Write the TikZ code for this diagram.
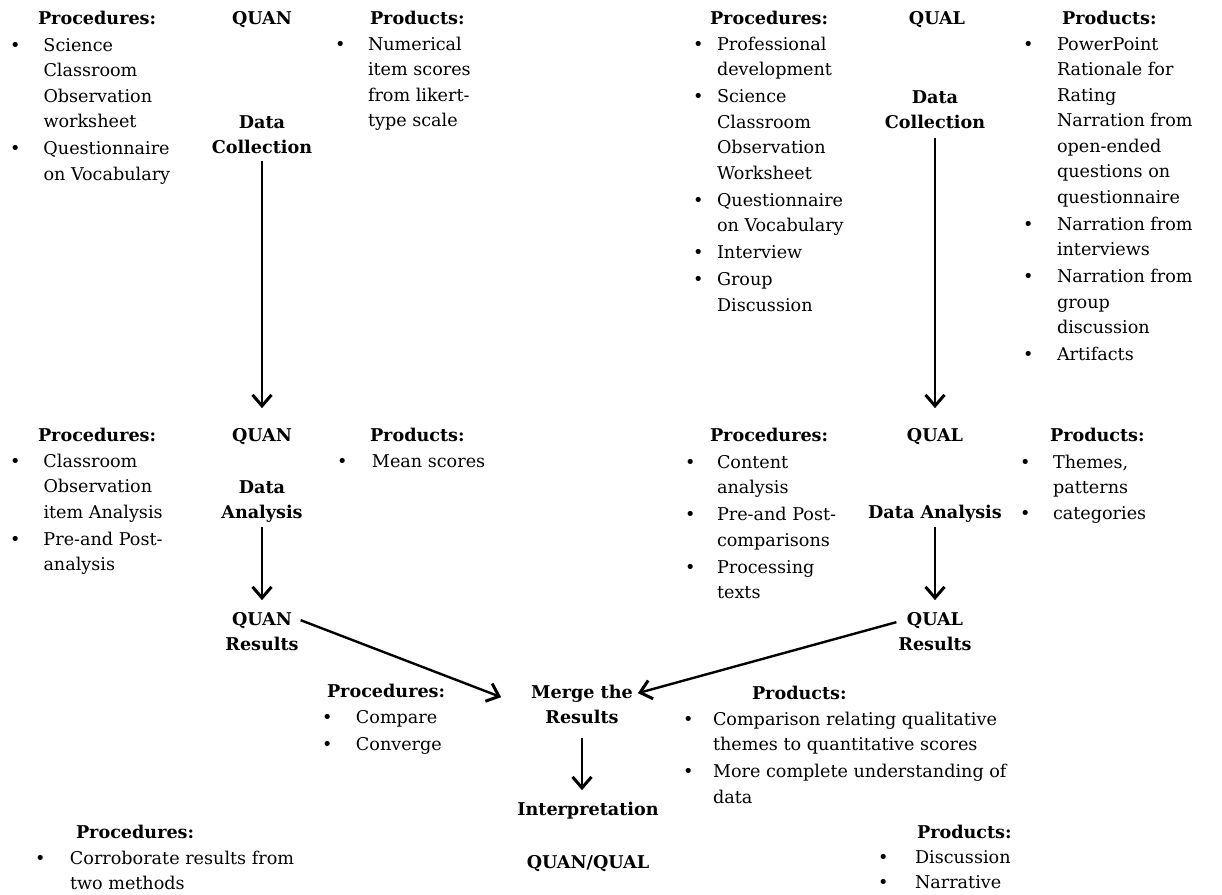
\documentclass[tikz,border=0pt]{standalone}
\usepackage{fontspec}
\setmainfont{DejaVu Serif}
\usetikzlibrary{arrows.meta,calc}
% bulleted list: #1 = indent from bullet to text, #2 = rows
\newcommand\blist[2]{\begin{tabular}[t]{@{}p{#1}@{}l@{}}#2\end{tabular}}
\newcommand\bu{\textbullet}
% centred stack of lines, baseline on the first line
\newcommand\stack[1]{\begin{tabular}[t]{@{}c@{}}#1\end{tabular}}

\begin{document}
\begin{tikzpicture}[x=1pt,y=-1pt,
  txt/.style={inner sep=0pt, outer sep=0pt, font=\fontsize{17.6}{25.5}\selectfont},
  head/.style={txt, font=\fontsize{17.6}{25.5}\selectfont\bfseries, anchor=base west},
  stage/.style={txt, font=\fontsize{17.6}{25.5}\selectfont\bfseries, anchor=base},
  items/.style={txt, anchor=base west},
  flow/.style={line width=2.8pt, -{Straight Barb[length=11pt,width=19pt,line width=3pt]}},
]
\useasboundingbox[fill=white] (0,0) rectangle (1222,894);

% ---------- QUAN data collection ----------
\node[head] (hA) at (38,24) {Procedures:};
\node[items] (lA) at (10,51) {\blist{33.5pt}{\bu & Science\\ & Classroom\\ & Observation\\ & worksheet\\[1.5pt]
  \bu & Questionnaire\\ & on Vocabulary}};
\node[stage] (qnA) at (262,24) {\stack{QUAN}};
\node[stage] (dcA) at (262,128) {\stack{Data\\Collection}};
\node[head] (hB) at (370,24) {Products:};
\node[items] (lB) at (335,50) {\blist{33pt}{\bu & Numerical\\ & item scores\\ & from likert-\\ & type scale}};

% ---------- QUAL data collection ----------
\node[head] (hC) at (710,24) {Procedures:};
\node[items] (lC) at (693,50) {\blist{24pt}{\bu & Professional\\ & development\\[1.5pt]
  \bu & Science\\ & Classroom\\ & Observation\\ & Worksheet\\[1.5pt]
  \bu & Questionnaire\\ & on Vocabulary\\[1.5pt]
  \bu & Interview\\[1.5pt]
  \bu & Group\\ & Discussion}};
\node[stage] (qlA) at (937,24) {\stack{QUAL}};
\node[stage] (dcB) at (935,103) {\stack{Data\\Collection}};
\node[head] (hD) at (1062,24) {Products:};
\node[items] (lD) at (1023,50) {\blist{34pt}{\bu & PowerPoint\\ & Rationale for\\ & Rating\\ & Narration from\\ & open-ended\\ & questions on\\ & questionnaire\\[1.5pt]
  \bu & Narration from\\ & interviews\\[1.5pt]
  \bu & Narration from\\ & group\\ & discussion\\[1.5pt]
  \bu & Artifacts}};

% ---------- QUAN data analysis ----------
\node[head] (hE) at (38,441) {Procedures:};
\node[items] (lE) at (10,467) {\blist{33.5pt}{\bu & Classroom\\ & Observation\\ & item Analysis\\[1.5pt]
  \bu & Pre-and Post-\\ & analysis}};
\node[stage] (qnB) at (262,441) {\stack{QUAN}};
\node[stage] (daA) at (262,493) {\stack{Data\\Analysis}};
\node[stage] (qrA) at (262,625) {\stack{QUAN\\Results}};
\node[head] (hF) at (370,441) {Products:};
\node[items] (lF) at (337,467) {\blist{35pt}{\bu & Mean scores}};

% ---------- QUAL data analysis ----------
\node[head] (hG) at (710,441) {Procedures:};
\node[items] (lG) at (685,468) {\blist{32pt}{\bu & Content\\ & analysis\\[1.5pt]
  \bu & Pre-and Post-\\ & comparisons\\[1.5pt]
  \bu & Processing\\ & texts}};
\node[stage] (qlB) at (935,441) {\stack{QUAL}};
\node[stage] (daB) at (935,518) {\stack{Data Analysis}};
\node[stage] (qrB) at (935,625) {\stack{QUAL\\Results}};
\node[head] (hH) at (1050,441) {Products:};
\node[items] (lH) at (1020,468) {\blist{33pt}{\bu & Themes,\\ & patterns\\
  \bu & categories}};

% ---------- merging ----------
\node[stage] (mg) at (582,698) {\stack{Merge the\\Results}};
\node[head] (hI) at (327,697) {Procedures:};
\node[items] (lI) at (322,723) {\blist{34pt}{\bu & Compare\\[1.5pt] \bu & Converge}};
\node[head] (hJ) at (752,699) {Products:};
\node[items] (lJ) at (683,725) {\blist{30pt}{\bu & Comparison relating qualitative\\ & themes to quantitative scores\\[1.5pt]
  \bu & More complete understanding of\\ & data}};

% ---------- interpretation ----------
\node[stage] (ip) at (588,815) {\stack{Interpretation}};
\node[stage] (qq) at (588,868) {\stack{QUAN/QUAL}};
\node[head] (hK) at (76,838) {Procedures:};
\node[items] (lK) at (35,864) {\blist{35pt}{\bu & Corroborate results from\\ & two methods}};
\node[head] (hL) at (917,838) {Products:};
\node[items] (lL) at (878,863) {\blist{37pt}{\bu & Discussion\\ \bu & Narrative}};

% ---------- connectors ----------
\draw[flow, shorten >=15pt] (dcA.south) -- (qnB.north);
\draw[flow, shorten <=2pt, shorten >=15pt] (dcB.south) -- (qlB.north);
\draw[flow, shorten <=1pt, shorten >=7pt] (daA.south) -- (qrA.north);
\draw[flow, shorten <=1pt, shorten >=7pt] (daB.south) -- (qrB.north);
\draw[flow, line width=2.4pt] ($(qrA.north east)+(2,13)$) -- ($(mg.north west)+(-30,17)$);
\draw[flow, line width=2.4pt] ($(qrB.north west)+(-2,15)$) -- ($(mg.north east)+(5,13)$);
\draw[flow, shorten <=7pt, shorten >=7pt] (mg.south) -- (mg.south |- ip.north);
\end{tikzpicture}
\end{document}
